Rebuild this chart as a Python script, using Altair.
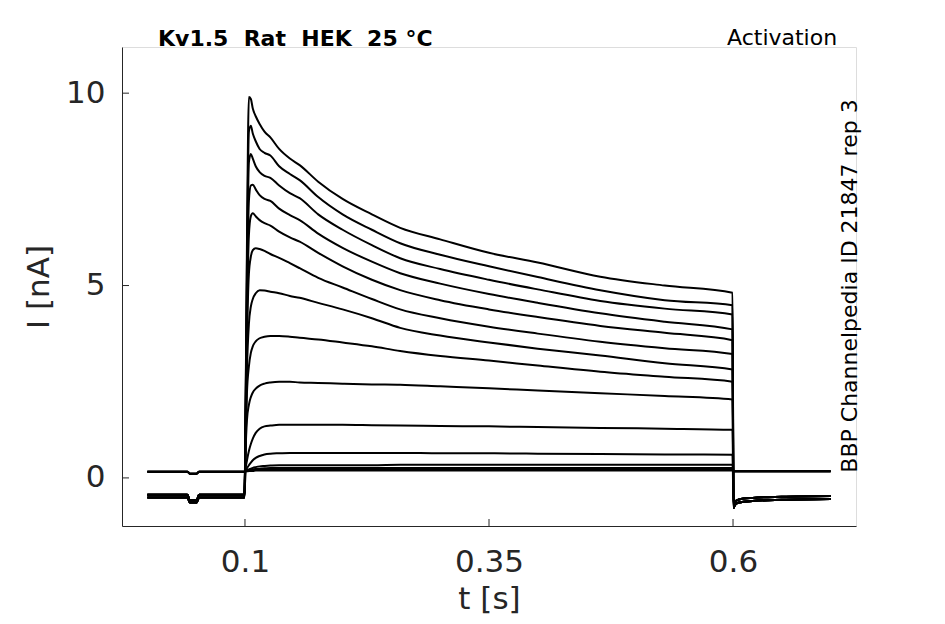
import altair as alt
import pandas as pd

# ---- time grids (s) ----
PRE_T = [0.0, 0.041, 0.0435, 0.0505, 0.053, 0.0995]
STEP_T = [0.1005, 0.102, 0.104, 0.106, 0.108, 0.111, 0.115, 0.12, 0.126, 0.135,
          0.146, 0.156, 0.175, 0.2, 0.23, 0.259, 0.3, 0.35, 0.4, 0.464, 0.53, 0.5995]
TAIL_T = [0.6005, 0.602, 0.606, 0.62, 0.65, 0.7]

# ---- holding current before the step (nA) ----
PRE_LOW_A = [-0.44, -0.44, -0.58, -0.58, -0.44, -0.44]
PRE_LOW_B = [-0.51, -0.51, -0.64, -0.64, -0.51, -0.51]
PRE_HIGH = [0.16, 0.16, 0.11, 0.11, 0.16, 0.16]

# ---- current after the step (nA) ----
TAIL_LOW_A = [-0.72, -0.62, -0.56, -0.52, -0.49, -0.47]
TAIL_LOW_B = [-0.78, -0.70, -0.64, -0.60, -0.57, -0.55]
TAIL_HIGH = [0.17, 0.17, 0.17, 0.17, 0.17, 0.17]

# ---- currents during the step, one list per sweep (nA) ----
S01 = [1.5, 6.0, 9.9, 9.85, 9.6, 9.4, 9.2, 9.0, 8.85, 8.55, 8.3, 8.13, 7.7, 7.25, 6.85, 6.5, 6.2, 5.85, 5.6, 5.23, 5.0, 4.81]
S02 = [1.4, 5.5, 9.0, 9.15, 8.95, 8.75, 8.55, 8.45, 8.38, 8.1, 7.9, 7.74, 7.3, 6.85, 6.45, 6.1, 5.8, 5.5, 5.22, 4.88, 4.62, 4.49]
S03 = [1.3, 5.0, 8.2, 8.42, 8.3, 8.1, 7.95, 7.85, 7.8, 7.6, 7.4, 7.27, 6.85, 6.45, 6.05, 5.71, 5.43, 5.15, 4.9, 4.6, 4.4, 4.25]
S04 = [1.2, 4.5, 7.2, 7.6, 7.62, 7.5, 7.35, 7.25, 7.2, 7.0, 6.83, 6.70, 6.35, 5.98, 5.62, 5.32, 5.05, 4.78, 4.55, 4.28, 4.06, 3.86]
S05 = [1.1, 4.0, 6.3, 6.8, 6.88, 6.8, 6.7, 6.62, 6.56, 6.4, 6.25, 6.14, 5.85, 5.5, 5.15, 4.88, 4.62, 4.38, 4.18, 3.95, 3.77, 3.58]
S06 = [1.0, 3.5, 5.3, 5.75, 5.92, 5.97, 5.95, 5.9, 5.82, 5.72, 5.58, 5.45, 5.2, 4.95, 4.65, 4.38, 4.15, 3.93, 3.75, 3.54, 3.37, 3.22]
S07 = [0.9, 2.8, 4.0, 4.45, 4.65, 4.8, 4.88, 4.87, 4.84, 4.8, 4.73, 4.68, 4.55, 4.38, 4.15, 3.9, 3.7, 3.52, 3.36, 3.18, 2.98, 2.82]
S08 = [0.8, 2.2, 2.9, 3.25, 3.42, 3.55, 3.63, 3.67, 3.69, 3.69, 3.67, 3.64, 3.6, 3.52, 3.42, 3.3, 3.17, 3.05, 2.92, 2.76, 2.63, 2.50]
S09 = [0.6, 1.5, 1.9, 2.1, 2.22, 2.32, 2.4, 2.45, 2.48, 2.5, 2.5, 2.48, 2.47, 2.45, 2.43, 2.42, 2.38, 2.33, 2.27, 2.2, 2.13, 2.04]
S10 = [0.2, 0.45, 0.7, 0.88, 1.02, 1.17, 1.28, 1.34, 1.36, 1.38, 1.38, 1.38, 1.38, 1.38, 1.37, 1.36, 1.35, 1.34, 1.32, 1.30, 1.28, 1.25]
S11 = [0.18, 0.25, 0.33, 0.4, 0.46, 0.52, 0.57, 0.61, 0.63, 0.64, 0.65, 0.65, 0.65, 0.65, 0.65, 0.65, 0.64, 0.64, 0.63, 0.62, 0.61, 0.60]
S12 = [0.18, 0.2, 0.22, 0.24, 0.26, 0.28, 0.3, 0.31, 0.32, 0.33, 0.33, 0.33, 0.33, 0.33, 0.33, 0.34, 0.34, 0.34, 0.34, 0.34, 0.34, 0.34]
S13 = [0.18, 0.19, 0.2, 0.21, 0.22, 0.23, 0.24, 0.25, 0.26, 0.26, 0.26, 0.26, 0.26, 0.26, 0.26, 0.26, 0.26, 0.26, 0.26, 0.26, 0.26, 0.26]
S14 = [0.17, 0.18, 0.19, 0.2, 0.2, 0.21, 0.21, 0.22, 0.22, 0.22, 0.22, 0.22, 0.22, 0.22, 0.22, 0.22, 0.22, 0.22, 0.22, 0.22, 0.22, 0.22]
S15 = [0.17, 0.17, 0.18, 0.18, 0.18, 0.19, 0.19, 0.19, 0.19, 0.19, 0.19, 0.19, 0.19, 0.19, 0.19, 0.19, 0.19, 0.19, 0.19, 0.19, 0.19, 0.19]

SWEEPS = [
    (S01, PRE_LOW_A, TAIL_LOW_A), (S02, PRE_LOW_B, TAIL_LOW_B), (S03, PRE_LOW_A, TAIL_LOW_A),
    (S04, PRE_LOW_B, TAIL_LOW_B), (S05, PRE_LOW_A, TAIL_LOW_A), (S06, PRE_LOW_B, TAIL_LOW_B),
    (S07, PRE_LOW_A, TAIL_LOW_A), (S08, PRE_LOW_B, TAIL_LOW_B), (S09, PRE_LOW_A, TAIL_LOW_A),
    (S10, PRE_LOW_B, TAIL_LOW_B), (S11, PRE_LOW_A, TAIL_LOW_B),
    (S12, PRE_HIGH, TAIL_HIGH), (S13, PRE_HIGH, TAIL_HIGH), (S14, PRE_HIGH, TAIL_HIGH),
    (S15, PRE_HIGH, TAIL_HIGH),
]

X_TICKS = [0.1, 0.35, 0.6]
Y_TICKS = [0, 5, 10]
X_DOMAIN = [-0.026, 0.726]
Y_DOMAIN = [-1.25, 11.2]

HEADER = "Kv1.5\u00a0\u00a0Rat\u00a0\u00a0HEK\u00a0\u00a025\u00a0°C"
CORNER = "Activation"
SIDE = "BBP Channelpedia ID 21847 rep 3"

rows = []
for k, (step, pre, tail) in enumerate(SWEEPS):
    ts = PRE_T + STEP_T + TAIL_T
    vs = pre + step + tail
    for i, (t, v) in enumerate(zip(ts, vs)):
        rows.append({"sweep": k, "i": i, "t": t, "I": v})
df = pd.DataFrame(rows)

W, H = 734, 479
FONT = "DejaVu Sans"
AX = "#262626"
LFS, TFS = 31, 31

xscale = alt.Scale(domain=X_DOMAIN, nice=False, zero=False)
yscale = alt.Scale(domain=Y_DOMAIN, nice=False, zero=False)

lines = alt.Chart(df).mark_line(color="black", strokeWidth=2, clip=True,
                                interpolate="monotone").encode(
    x=alt.X("t:Q", scale=xscale,
            axis=alt.Axis(values=X_TICKS, format="~g", title="t [s]", grid=False,
                          tickSize=0, labelPadding=21, labelFontSize=LFS, labelFont=FONT,
                          labelColor=AX, titleFont=FONT, titleFontSize=TFS,
                          titleFontWeight="normal", titleColor=AX, titlePadding=7,
                          domainColor=AX, labelFlush=False)),
    y=alt.Y("I:Q", scale=yscale,
            axis=alt.Axis(values=Y_TICKS, format="d", title="I [nA]", grid=False,
                          tickSize=0, labelPadding=17, labelFontSize=LFS, labelFont=FONT,
                          labelColor=AX, titleFont=FONT, titleFontSize=TFS,
                          titleFontWeight="normal", titleColor=AX, titlePadding=10,
                          domainColor=AX, labelFlush=False)),
    detail="sweep:N",
    order="i:Q",
)

xt = alt.Chart(pd.DataFrame({"v": X_TICKS})).mark_rule(color=AX, strokeWidth=1).encode(
    x=alt.X("v:Q", scale=xscale), y=alt.value(H), y2=alt.value(H - 7))
yt = alt.Chart(pd.DataFrame({"v": Y_TICKS})).mark_rule(color=AX, strokeWidth=1).encode(
    y=alt.Y("v:Q", scale=yscale), x=alt.value(0), x2=alt.value(7))

TXT = pd.DataFrame({"a": [0]})
head = alt.Chart(TXT).mark_text(text=HEADER, font=FONT, fontSize=22,
                                fontWeight="bold", align="left", baseline="middle",
                                color="black").encode(x=alt.value(36), y=alt.value(-8))
act = alt.Chart(TXT).mark_text(text=CORNER, font=FONT, fontSize=22, align="left",
                               baseline="middle", color="black").encode(
    x=alt.value(605), y=alt.value(-9))
side = alt.Chart(TXT).mark_text(text=SIDE, font=FONT,
                                fontSize=22, angle=270, align="center", baseline="middle",
                                color="black").encode(x=alt.value(728), y=alt.value(239))

chart = alt.layer(lines, xt, yt, head, act, side).properties(
    width=W, height=H,
    autosize=alt.AutoSizeParams(type="none"),
    padding={"left": 114, "top": 39, "right": 81, "bottom": 90},
).configure_view(stroke=None).configure(background="white")

chart.save("out.html", embed_options={"renderer": "svg", "actions": False})
